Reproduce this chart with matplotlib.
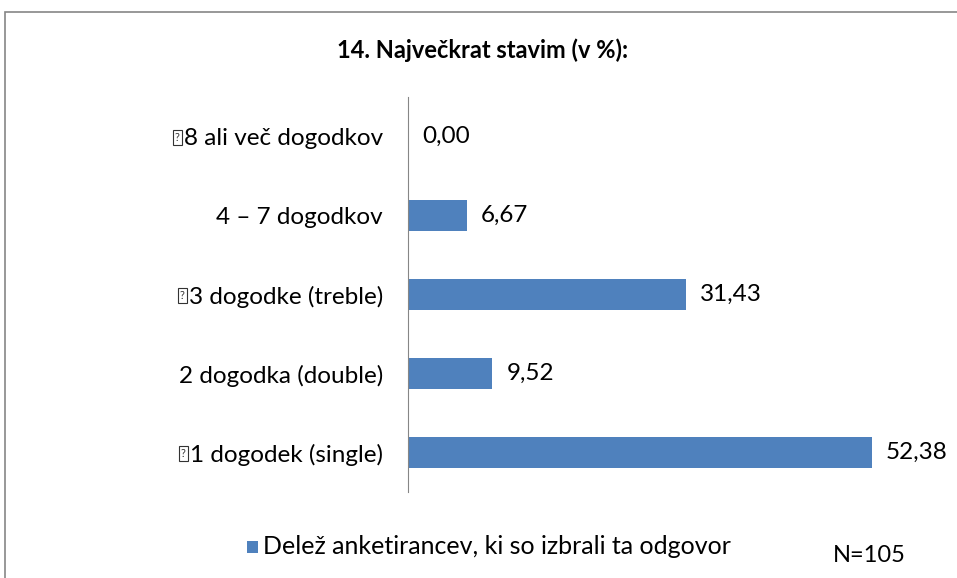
import matplotlib.pyplot as plt
from matplotlib.patches import Rectangle

plt.rcParams['font.family'] = ['Lato', 'DejaVu Sans']

TOFU = '\u2370'
categories = [TOFU + '1 dogodek (single)', '2 dogodka (double)', TOFU + '3 dogodke (treble)',
              '4 \u2013 7 dogodkov', TOFU + '8 ali več dogodkov']
values = [52.38, 9.52, 31.43, 6.67, 0.00]
title = '14. Največkrat stavim (v %):'
legend_label = 'Delež anketirancev, ki so izbrali ta odgovor'

W, H = 957, 578
fig = plt.figure(figsize=(W / 100, H / 100), dpi=100)
ax = fig.add_axes([408/W, 1 - 492/H, 531/W, 395/H])

pos = list(range(len(categories)))
ax.barh(pos, values, height=0.4, color='#4F81BD', label=legend_label)
for p, v in zip(pos, values):
    ax.text(v + 1.6, p, f'{v:.2f}'.replace('.', ','), va='center', ha='left', fontsize=17.5)

ax.set_xlim(0, 60)
ax.set_ylim(-0.5, len(categories) - 0.5)
ax.set_yticks(pos)
ax.set_yticklabels([c.replace(TOFU, '') for c in categories], fontsize=17.5)
ax.tick_params(axis='y', length=0, pad=18)
ax.set_xticks([])
for s in ['top', 'right', 'bottom']:
    ax.spines[s].set_visible(False)
ax.spines['left'].set_color('#868686')

fig.text(483/W, 1 - 50/H, title, ha='center', va='center', fontsize=17, fontweight='bold')

# legend
fig.patches.append(Rectangle((247/W, 1 - 553/H), 11/W, 12/H, transform=fig.transFigure,
                             facecolor='#4F81BD', edgecolor='none'))
fig.text(263/W, 1 - 547/H, legend_label, ha='left', va='center', fontsize=18)
fig.text(833/W, 1 - 555/H, 'N=105', ha='left', va='center', fontsize=17)

# chart border
fig.patches.append(Rectangle((5/W, -0.05), 1.1, 1 - 12/H + 0.05, transform=fig.transFigure,
                             facecolor='none', edgecolor='#868686', linewidth=1.2))

# missing-glyph box (shown as a boxed "?" in the reference)
fig.canvas.draw()
r = fig.canvas.get_renderer()
for c, lab in zip(categories, ax.get_yticklabels()):
    if c.startswith(TOFU):
        bb = lab.get_window_extent(r)
        cy = (bb.y0 + bb.y1) / 2 + 1
        x0 = bb.x0 - 11
        fig.patches.append(Rectangle((x0 / W, (cy - 7.5) / H), 9 / W, 15 / H,
                                     transform=fig.transFigure, facecolor='none',
                                     edgecolor='#333333', linewidth=0.8))
        fig.text((x0 + 4.5) / W, cy / H, '?', ha='center', va='center', fontsize=8,
                 color='#333333')

fig.savefig('out.png', dpi=100)
